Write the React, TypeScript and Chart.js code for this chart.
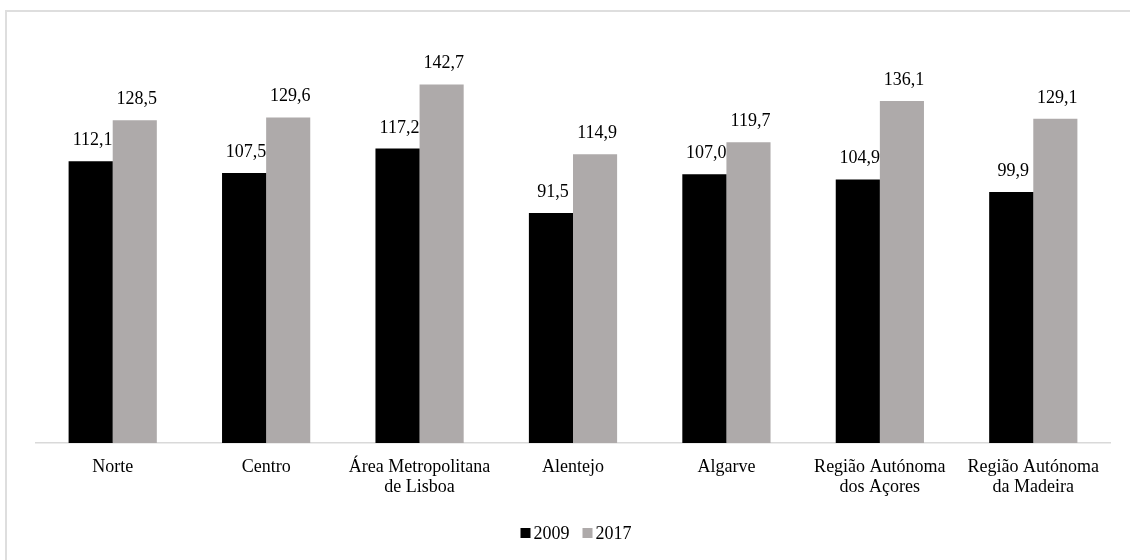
import React, { useEffect, useRef } from "react";
import { Chart, registerables } from "chart.js";

Chart.register(...registerables);

// Regions (NUTS II) and index values for both years
const regions: (string | string[])[] = [
  "Norte",
  "Centro",
  ["Área Metropolitana", "de Lisboa"],
  "Alentejo",
  "Algarve",
  ["Região Autónoma", "dos Açores"],
  ["Região Autónoma", "da Madeira"],
];
const values2009 = [112.1, 107.5, 117.2, 91.5, 107.0, 104.9, 99.9];
const values2017 = [128.5, 129.6, 142.7, 114.9, 119.7, 136.1, 129.1];
const seriesLabels = ["2009", "2017"];
const seriesColors = ["#000000", "#AEAAAA"];

const FONT = "'Liberation Serif', 'Times New Roman', serif";

// Value labels above each bar, written with a decimal comma
const valueLabels = {
  id: "valueLabels",
  afterDatasetsDraw(chart: Chart) {
    const ctx = chart.ctx;
    ctx.save();
    ctx.font = `18px ${FONT}`;
    ctx.fillStyle = "#000";
    ctx.textAlign = "center";
    ctx.textBaseline = "alphabetic";
    chart.data.datasets.forEach((ds, di) => {
      const meta = chart.getDatasetMeta(di);
      meta.data.forEach((bar: any, i: number) => {
        const v = ds.data[i] as number;
        const txt = v.toFixed(1).replace(".", ",");
        ctx.fillText(txt, bar.x + 2, bar.y - 16);
      });
    });
    ctx.restore();
  },
};

// Compact legend below the axis: square swatch followed closely by the year
const bottomLegend = {
  id: "bottomLegend",
  afterDraw(chart: Chart) {
    const ctx = chart.ctx;
    ctx.save();
    ctx.font = `18px ${FONT}`;
    ctx.textBaseline = "alphabetic";
    ctx.textAlign = "left";
    const box = 10;
    const gapText = 3;
    const gapItem = 13;
    const items = chart.data.datasets.map((ds) => ({
      label: ds.label as string,
      color: ds.backgroundColor as string,
      w: ctx.measureText(ds.label as string).width,
    }));
    const total =
      items.reduce((s, it) => s + box + gapText + it.w, 0) +
      gapItem * (items.length - 1);
    const area = chart.chartArea;
    let x = (area.left + area.right) / 2 + 3 - total / 2;
    const baseY = 539;
    items.forEach((it) => {
      ctx.fillStyle = it.color;
      ctx.fillRect(x, baseY - 11, box, box);
      ctx.fillStyle = "#000";
      ctx.fillText(it.label, x + box + gapText, baseY);
      x += box + gapText + it.w + gapItem;
    });
    ctx.restore();
  },
};

export default function App() {
  const canvasRef = useRef<HTMLCanvasElement | null>(null);

  useEffect(() => {
    if (!canvasRef.current) return;
    const chart = new Chart(canvasRef.current, {
      type: "bar",
      data: {
        labels: regions,
        datasets: [
          {
            label: seriesLabels[0],
            data: values2009,
            backgroundColor: seriesColors[0],
            categoryPercentage: 0.575,
            barPercentage: 1,
          },
          {
            label: seriesLabels[1],
            data: values2017,
            backgroundColor: seriesColors[1],
            categoryPercentage: 0.575,
            barPercentage: 1,
          },
        ],
      },
      options: {
        animation: false,
        responsive: false,
        layout: { padding: { left: 36, right: 20, top: 41, bottom: 0 } },
        plugins: {
          legend: { display: false },
          tooltip: { enabled: false },
        },
        scales: {
          x: {
            grid: { display: false, drawTicks: false },
            border: { display: true, color: "#D9D9D9", width: 1.5 },
            ticks: {
              color: "#000",
              font: { family: FONT, size: 18, lineHeight: 1.12 },
              padding: 14,
              maxRotation: 0,
              autoSkip: false,
            },
            afterFit: (scale: any) => {
              scale.height = 117;
            },
          },
          y: {
            display: false,
            min: 0,
            max: 160,
          },
        },
      },
      plugins: [valueLabels, bottomLegend],
    });
    return () => chart.destroy();
  }, []);

  return (
    <div style={{ position: "fixed", left: 0, top: 0, width: 1130, height: 560, background: "#fff" }}>
      <div
        style={{
          position: "absolute",
          left: 5,
          top: 10,
          width: 1200,
          height: 700,
          border: "2px solid #DEDEDE",
          boxSizing: "border-box",
        }}
      />
      <canvas
        ref={canvasRef}
        width={1130}
        height={560}
        style={{ position: "absolute", left: 0, top: 0 }}
      />
    </div>
  );
}
